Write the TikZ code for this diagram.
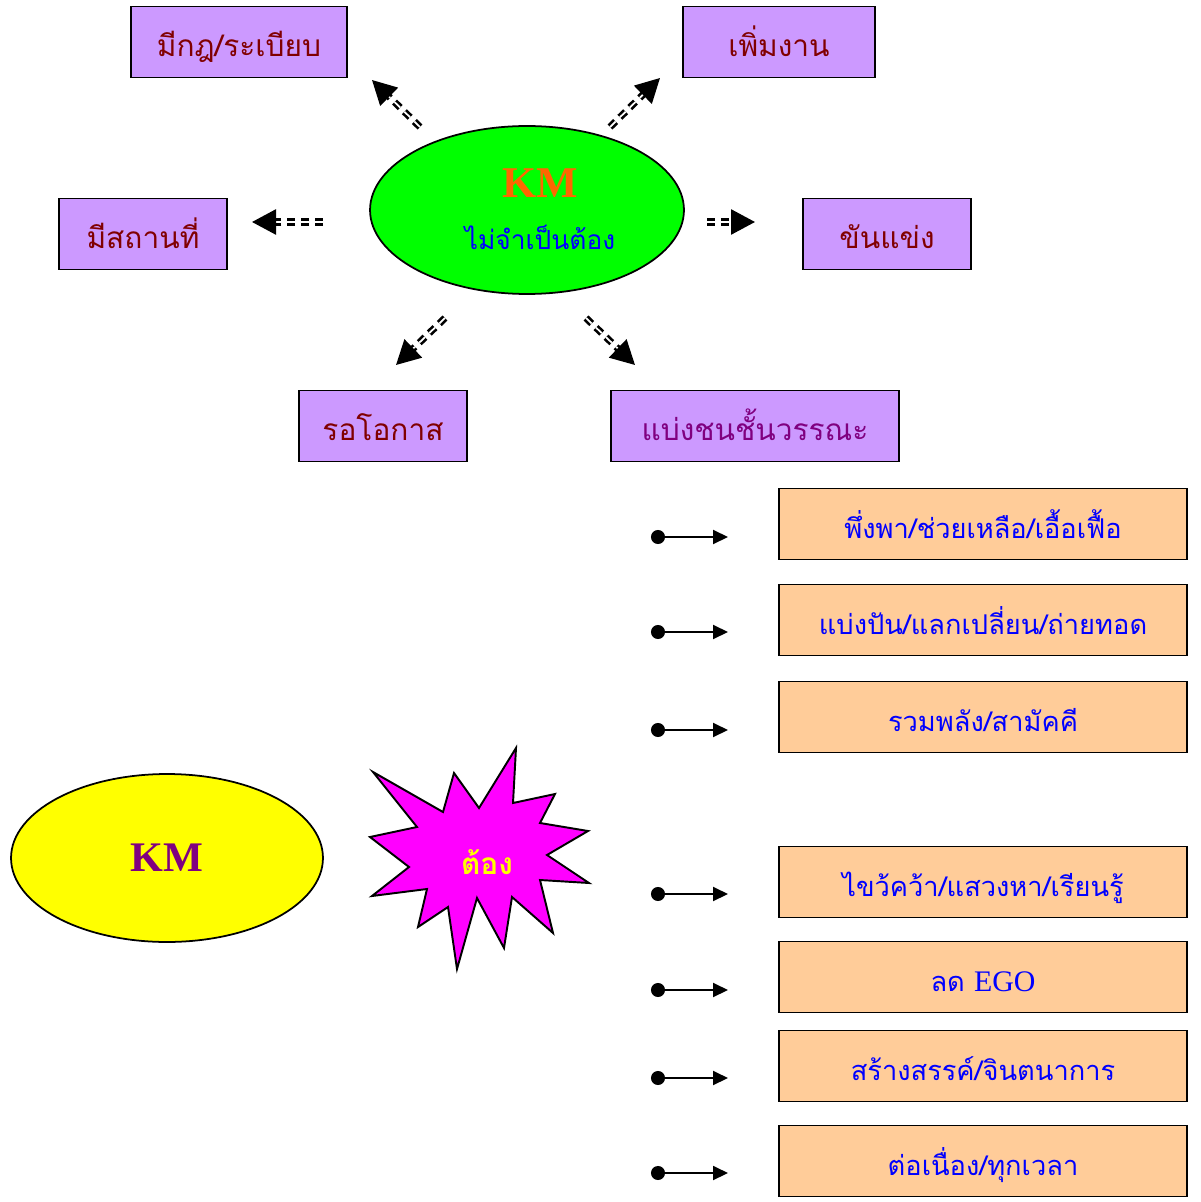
\documentclass[tikz,border=0pt]{standalone}
\usepackage{fontspec}
\setmainfont{Liberation Serif}
\newfontfamily\thai[Script=Thai]{Loma}
\usepackage{tikz}
\usetikzlibrary{arrows.meta, shapes.geometric}
\definecolor{lilac}{HTML}{CC99FF}
\definecolor{peach}{HTML}{FFCC99}
\definecolor{kmgreen}{HTML}{00FF00}
\definecolor{kmyellow}{HTML}{FFFF00}
\definecolor{burst}{HTML}{FF00FF}
\definecolor{darkred}{HTML}{800000}
\definecolor{plum}{HTML}{800080}
\definecolor{kmorange}{HTML}{FF6600}
\definecolor{thaiblue}{HTML}{0000FF}

\begin{document}
\begin{tikzpicture}[x=0.02cm, y=-0.02cm,
  pbox/.style={draw, line width=1.1pt, fill=lilac, minimum height=1.42cm, inner sep=0pt, text height=0.62cm, text depth=0.02cm, text=darkred, font=\thai\fontsize{17}{20}\selectfont},
  obox/.style={draw, line width=1.1pt, fill=peach, minimum width=8.16cm, minimum height=1.42cm, inner sep=0pt, text height=0.58cm, text depth=0.02cm, text=thaiblue, font=\thai\fontsize{15.5}{18}\selectfont},
  dasharrow/.style={double, line width=1.5pt, double distance=1pt, dash pattern=on 4.5pt off 3.4pt, -{Triangle[length=0.48cm, width=0.5cm]}},
  dotarrow/.style={line width=1.1pt, {Circle[length=0.28cm]}-{Triangle[length=0.3cm, width=0.28cm]}}]
\useasboundingbox (0,0) rectangle (1200,1202);
% top part: KM not needed
\node[ellipse, draw, line width=1pt, fill=kmgreen, minimum width=6.28cm, minimum height=3.36cm, inner sep=0pt] (green) at (527,210) {};
\node[text=kmorange, font=\bfseries\fontsize{25}{28}\selectfont] (km1) at (540,183) {KM};
\node[text=thaiblue, font=\thai\fontsize{15}{18}\selectfont] (km1sub) at (540,237) {ไม่จำเป็นต้อง};
% purple boxes
\node[pbox, minimum width=4.32cm] (rule) at (239,42) {มีกฎ/ระเบียบ};
\node[pbox, minimum width=3.84cm] (work) at (779,42) {เพิ่มงาน};
\node[pbox, minimum width=3.36cm] (place) at (143,234) {มีสถานที่};
\node[pbox, minimum width=3.36cm] (compete) at (887,234) {ขันแข่ง};
\node[pbox, minimum width=3.36cm] (wait) at (383,426) {รอโอกาส};
\node[pbox, minimum width=5.76cm, text=plum] (caste) at (755,426) {แบ่งชนชั้นวรรณะ};
% dashed arrows round the ellipse
\coordinate (ul0) at (420,127); \coordinate (ul1) at (372,80);
\coordinate (ur0) at (610,127); \coordinate (ur1) at (660,78);
\coordinate (l0) at (323,222);  \coordinate (l1) at (252,222);
\coordinate (r0) at (707,222);  \coordinate (r1) at (755,222);
\coordinate (dl0) at (445,318); \coordinate (dl1) at (396,365);
\coordinate (dr0) at (586,318); \coordinate (dr1) at (635,365);
\draw[dasharrow] (ul0) -- (ul1);
\draw[dasharrow] (ur0) -- (ur1);
\draw[dasharrow] (l0) -- (l1);
\draw[dasharrow] (r0) -- (r1);
\draw[dasharrow] (dl0) -- (dl1);
\draw[dasharrow] (dr0) -- (dr1);
% bottom part: KM must
\node[ellipse, draw, line width=1pt, fill=kmyellow, minimum width=6.24cm, minimum height=3.36cm, inner sep=0pt] (yellow) at (167,858) {};
\node[text=plum, font=\bfseries\fontsize{24}{28}\selectfont] (km2) at (167,858) {KM};
% starburst
\draw[line width=1.1pt, fill=burst] (373,772) -- (443,812) -- (454,773) -- (479,808) -- (516,748) -- (513,803) -- (555,794) -- (540,823) -- (588,831) -- (547,855) -- (589,883) -- (540,880) -- (553,933) -- (512,897) -- (504,948) -- (477,898) -- (457,969) -- (448,907) -- (418,927) -- (427,889) -- (372,896) -- (409,867) -- (370,837) -- (417,827) -- cycle;
\node[text=kmyellow, font=\thai\bfseries\fontsize{17}{20}\selectfont] (must) at (487,862) {ต้อง};
% orange boxes
\node[obox] (help) at (983,524) {พึ่งพา/ช่วยเหลือ/เอื้อเฟื้อ};
\node[obox] (share) at (983,620) {แบ่งปัน/แลกเปลี่ยน/ถ่ายทอด};
\node[obox] (unite) at (983,717) {รวมพลัง/สามัคคี};
\node[obox] (seek) at (983,882) {ไขว้คว้า/แสวงหา/เรียนรู้};
\node[obox] (ego) at (983,977) {{\thai ลด} {\rmfamily\fontsize{17}{20}\selectfont EGO}};
\node[obox] (create) at (983,1066) {สร้างสรรค์/จินตนาการ};
\node[obox] (always) at (983,1161) {ต่อเนื่อง/ทุกเวลา};
% dot arrows
\coordinate (a1) at (651,537);  \coordinate (b1) at (728,537);
\coordinate (a2) at (651,632);  \coordinate (b2) at (728,632);
\coordinate (a3) at (651,730);  \coordinate (b3) at (728,730);
\coordinate (a4) at (651,894);  \coordinate (b4) at (728,894);
\coordinate (a5) at (651,990);  \coordinate (b5) at (728,990);
\coordinate (a6) at (651,1078); \coordinate (b6) at (728,1078);
\coordinate (a7) at (651,1173); \coordinate (b7) at (728,1173);
\draw[dotarrow] (a1) -- (b1);
\draw[dotarrow] (a2) -- (b2);
\draw[dotarrow] (a3) -- (b3);
\draw[dotarrow] (a4) -- (b4);
\draw[dotarrow] (a5) -- (b5);
\draw[dotarrow] (a6) -- (b6);
\draw[dotarrow] (a7) -- (b7);
\end{tikzpicture}
\end{document}
